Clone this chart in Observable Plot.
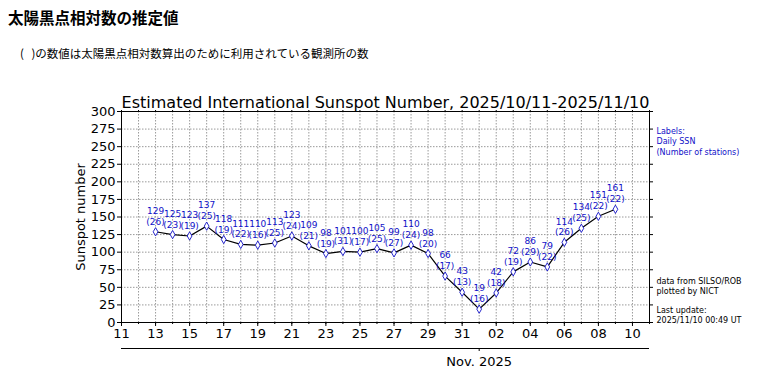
<!DOCTYPE html>
<html><head><meta charset="utf-8">
<script src="https://cdn.jsdelivr.net/npm/d3@7"></script>
<script src="https://cdn.jsdelivr.net/npm/@observablehq/plot@0.6"></script>
<style>
body{margin:0;background:white;width:760px;height:384px;overflow:hidden;}
#head{position:relative;height:70px;}
#t1{position:absolute;left:8px;top:10px;font:bold 15.5px "Noto Sans CJK JP",sans-serif;line-height:1;}
#t2{position:absolute;left:20px;top:48px;font:11.5px "Noto Sans CJK JP",sans-serif;line-height:1;word-spacing:5px;}
</style></head>
<body>
<div id="head"><div id="t1">太陽黒点相対数の推定値</div><div id="t2">( )の数値は太陽黒点相対数算出のために利用されている観測所の数</div></div>
<div id="chart"></div>
<script>
const dates = ["2025-10-13","2025-10-14","2025-10-15","2025-10-16","2025-10-17","2025-10-18","2025-10-19","2025-10-20","2025-10-21","2025-10-22","2025-10-23","2025-10-24","2025-10-25","2025-10-26","2025-10-27","2025-10-28","2025-10-29","2025-10-30","2025-10-31","2025-11-01","2025-11-02","2025-11-03","2025-11-04","2025-11-05","2025-11-06","2025-11-07","2025-11-08","2025-11-09"];
const ssn = [129,125,123,137,118,111,110,113,123,109,98,101,100,105,99,110,98,66,43,19,42,72,86,79,114,134,151,161];
const stations = [26,23,19,25,19,22,16,25,24,21,19,31,17,25,27,24,20,17,13,16,18,19,29,22,26,25,22,22];
const xTickDates = ["2025-10-11","2025-10-13","2025-10-15","2025-10-17","2025-10-19","2025-10-21","2025-10-23","2025-10-25","2025-10-27","2025-10-29","2025-10-31","2025-11-02","2025-11-04","2025-11-06","2025-11-08","2025-11-10"];
const yTicks = [0,25,50,75,100,125,150,175,200,225,250,275,300];
const xDomain = ["2025-10-11","2025-11-11"];
const monthTick = ["2025-11-01"];
const monthLabel = "Nov. 2025";
const chartTitle = "Estimated International Sunspot Number, 2025/10/11-2025/11/10";
const yLabel = "Sunspot number";
const legendNote = "Labels:\nDaily SSN\n(Number of stations)";
const sourceNote = "data from SILSO/ROB\nplotted by NICT\n\nLast update:\n2025/11/10 00:49 UT";

const parse = d3.utcParse("%Y-%m-%d");
const data = dates.map((d,i)=>({date: parse(d), ssn: ssn[i], st: stations[i]}));
const blue = "#1010c8";
const grid = {stroke:"#9a9a9a", strokeOpacity:1, strokeDasharray:"1.5,1.5"};

const chart = Plot.plot({
  width:760, height:314,
  marginTop:41, marginBottom:62, marginLeft:121, marginRight:111,
  style:{fontFamily:"'DejaVu Sans', sans-serif", fontSize:"13px", color:"black", background:"white", overflow:"visible"},
  x:{type:"utc", domain:xDomain.map(parse)},
  y:{domain:[0,300]},
  marks:[
    Plot.gridX({ticks: d3.utcDay, ...grid}),
    Plot.gridY(yTicks, grid),
    Plot.frame({stroke:"black"}),
    Plot.axisX({ticks: d3.utcDay, tickSize:2, tickFormat:()=>"", label:null}),
    Plot.axisX({anchor:"top", ticks: d3.utcDay, tickSize:2, tickFormat:()=>"", label:null}),
    Plot.axisX(xTickDates.map(parse), {tickSize:4, tickPadding:2, tickFormat:d3.utcFormat("%d"), label:null}),
    Plot.axisY(yTicks, {tickSize:4, tickPadding:2, label:null}),
    Plot.axisY(yTicks, {anchor:"right", tickSize:3, tickFormat:()=>"", label:null}),
    Plot.ruleY([0], {dy:26, stroke:"black"}),
    Plot.axisX(monthTick.map(parse), {tickSize:3, tickPadding:5, dy:26, tickFormat:()=>monthLabel, label:null}),
    Plot.line(data, {x:"date", y:"ssn", stroke:"black", strokeWidth:1.2}),
    Plot.dot(data, {x:"date", y:"ssn", symbol:"diamond", r:2.5, stroke:blue, fill:"white", strokeWidth:0.9}),
    Plot.text(data, {x:"date", y:"ssn", text:d=>`${d.ssn}\n(${d.st})`, lineAnchor:"bottom", dy:-7, lineHeight:1.2, fontSize:9, fill:blue}),
    Plot.text([chartTitle], {frameAnchor:"top", dy:-15, fontSize:16}),
    Plot.text([yLabel], {frameAnchor:"left", dx:-41, rotate:-90, textAnchor:"middle", fontSize:13}),
    Plot.text([legendNote], {frameAnchor:"top-right", dx:7, dy:15, textAnchor:"start", lineAnchor:"top", fontSize:8, lineHeight:1.3, fill:blue}),
    Plot.text([sourceNote], {frameAnchor:"bottom-right", dx:7, dy:0, textAnchor:"start", lineAnchor:"bottom", fontSize:8, lineHeight:1.2, fill:"black"})
  ]
});
document.getElementById("chart").appendChild(chart);
</script>
</body></html>
